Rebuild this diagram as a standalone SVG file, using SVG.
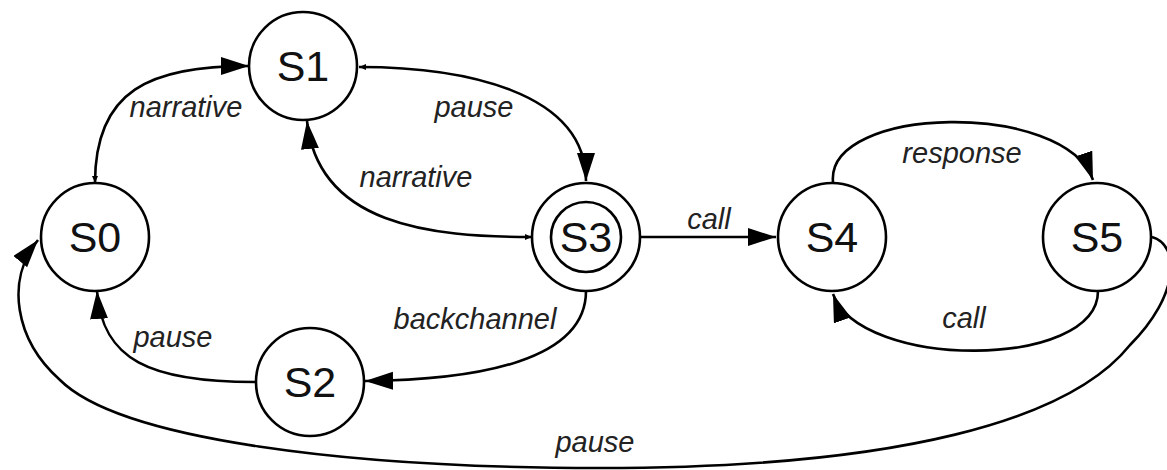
<svg xmlns="http://www.w3.org/2000/svg" width="1167" height="470" viewBox="0 0 1167 470">
<style>
.node{fill:#fff;stroke:#000;stroke-width:2.6}
.nl{font-family:"Liberation Sans",Arial,sans-serif;font-size:43px;fill:#111;text-anchor:middle}
.el{font-family:"Liberation Sans",Arial,sans-serif;font-size:29px;font-style:italic;fill:#222;text-anchor:middle}
.edge{fill:none;stroke:#000;stroke-width:2.6}
</style>
<defs>
<marker id="arr" markerUnits="userSpaceOnUse" markerWidth="30" markerHeight="20" refX="28" refY="9" orient="auto" viewBox="0 0 30 20">
<path d="M0,0 L28,9 L0,18 z" fill="#000"/>
</marker>
<marker id="tail" markerUnits="userSpaceOnUse" markerWidth="8" markerHeight="6" refX="7" refY="3" orient="auto-start-reverse" viewBox="0 0 8 6">
<path d="M0,0 L7,3 L0,6 z" fill="#000"/>
</marker>
</defs>
<g id="connectors">
<path class="edge" d="M95,183 C95,90 150,66 249,66" marker-start="url(#tail)" marker-end="url(#arr)"/>
<path class="edge" d="M359,67 C460,67 586,90 586,181" marker-start="url(#tail)" marker-end="url(#arr)"/>
<path class="edge" d="M532,237 C430,237 318,225 307,121" marker-start="url(#tail)" marker-end="url(#arr)"/>
<path class="edge" d="M586,291 C586,360 480,380 365,381" marker-end="url(#arr)"/>
<path class="edge" d="M255,382 C150,382 102,360 97,291" marker-end="url(#arr)"/>
<path class="edge" d="M640,237 L776,237" marker-end="url(#arr)"/>
<path class="edge" d="M833,182 C826,105 1065,100 1093,180" marker-end="url(#arr)"/>
<path class="edge" d="M1098,291 C1098,370 860,370 833,294" marker-end="url(#arr)"/>
<path class="edge" d="M1152,237 C1180,245 1180,295 1130,345 C1070,420 900,468 600,468 C350,468 120,440 60,380 C15,340 5,280 38,240" marker-end="url(#arr)"/>
<text class="el" x="186" y="117">narrative</text>
<text class="el" x="474" y="117">pause</text>
<text class="el" x="416" y="187">narrative</text>
<text class="el" x="475" y="329">backchannel</text>
<text class="el" x="173" y="347">pause</text>
<text class="el" x="709" y="229">call</text>
<text class="el" x="962" y="163">response</text>
<text class="el" x="964" y="328">call</text>
<text class="el" x="595" y="452">pause</text>
</g>
<g id="S0"><circle class="node" cx="95" cy="237" r="54"/><text class="nl" x="95" y="252">S0</text></g>
<g id="S1"><circle class="node" cx="303" cy="66" r="54"/><text class="nl" x="303" y="81">S1</text></g>
<g id="S2"><circle class="node" cx="310" cy="382" r="54"/><text class="nl" x="310" y="397">S2</text></g>
<g id="S3"><circle class="node" cx="586" cy="237" r="54"/><circle class="node" cx="586" cy="237" r="35"/><text class="nl" x="586" y="252">S3</text></g>
<g id="S4"><circle class="node" cx="832" cy="237" r="54"/><text class="nl" x="832" y="252">S4</text></g>
<g id="S5"><circle class="node" cx="1097" cy="237" r="54"/><text class="nl" x="1097" y="252">S5</text></g>
</svg>
